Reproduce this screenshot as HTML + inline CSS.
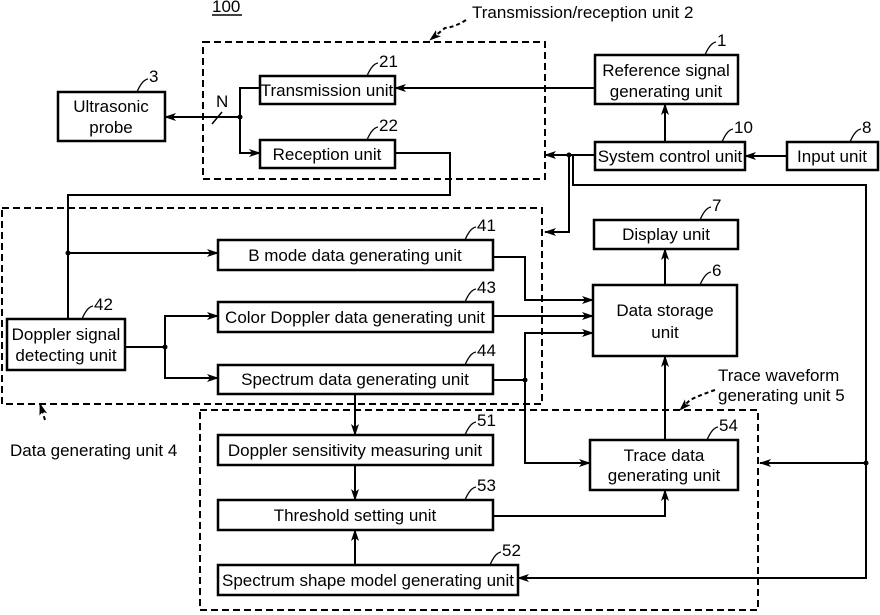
<!DOCTYPE html>
<html><head><style>body{margin:0;background:#fff}svg{display:block}text{font-family:"Liberation Sans",sans-serif;font-size:17px;fill:#000}</style></head><body>
<svg width="880" height="615" viewBox="0 0 880 615" xmlns="http://www.w3.org/2000/svg">
<defs><marker id="a" markerWidth="12" markerHeight="8" refX="11" refY="4" orient="auto" markerUnits="userSpaceOnUse"><path d="M0,0 L12,4 L0,8 L3,4z" fill="#000"/></marker></defs>
<g fill="none" stroke="#000" stroke-width="2" stroke-dasharray="7,4">
<rect x="203" y="42" width="342" height="137"/>
<rect x="2" y="208" width="540" height="196"/>
<rect x="200" y="410" width="558" height="200"/>
</g>
<g fill="#fff" stroke="#000" stroke-width="2.5">
<rect x="58" y="92" width="107" height="49"/>
<rect x="260" y="76" width="135" height="28"/>
<rect x="260" y="140" width="135" height="28"/>
<rect x="595" y="55" width="143" height="49"/>
<rect x="595" y="142" width="150" height="28"/>
<rect x="787" y="142" width="91" height="28"/>
<rect x="594" y="220" width="144" height="29"/>
<rect x="593" y="285" width="144" height="71"/>
<rect x="218" y="240" width="275" height="30"/>
<rect x="218" y="302" width="275" height="30"/>
<rect x="218" y="365" width="275" height="29"/>
<rect x="7" y="319" width="118" height="51"/>
<rect x="218" y="435" width="275" height="30"/>
<rect x="218" y="500" width="275" height="30"/>
<rect x="218" y="565" width="300" height="30"/>
<rect x="590" y="440" width="148" height="50"/>
</g>
<g fill="none" stroke="#000" stroke-width="2">
<path d="M595,88 H395" marker-end="url(#a)"/>
<path d="M665,142 V104" marker-end="url(#a)"/>
<path d="M787,156 H745" marker-end="url(#a)"/>
<path d="M595,155 H545" marker-end="url(#a)"/>
<path d="M569,155 V232 H545" marker-end="url(#a)"/>
<path d="M573,155 V185 H866 V578 H518" marker-end="url(#a)"/>
<path d="M866,463 H760" marker-end="url(#a)"/>
<path d="M240,117 H165" marker-end="url(#a)"/>
<path d="M260,88 H240 V153 H260" marker-end="url(#a)"/>
<path d="M212,124 L222,112" stroke-width="1.5"/>
<path d="M395,153 H450 V195 H68 V319"/>
<path d="M68,253 H218" marker-end="url(#a)"/>
<path d="M125,347 H165 V316 H218" marker-end="url(#a)"/>
<path d="M165,347 V378 H218" marker-end="url(#a)"/>
<path d="M493,257 H525 V300 H593" marker-end="url(#a)"/>
<path d="M493,316 H593" marker-end="url(#a)"/>
<path d="M493,380 H525 V333 H593" marker-end="url(#a)"/>
<path d="M525,380 V463 H590" marker-end="url(#a)"/>
<path d="M355,394 V435" marker-end="url(#a)"/>
<path d="M355,465 V500" marker-end="url(#a)"/>
<path d="M355,565 V530" marker-end="url(#a)"/>
<path d="M493,516 H665 V490" marker-end="url(#a)"/>
<path d="M665,440 V356" marker-end="url(#a)"/>
<path d="M665,285 V249" marker-end="url(#a)"/>
<path d="M466,20 Q455,27 445,28 L430,40" stroke-dasharray="4,3" marker-end="url(#a)"/>
<path d="M45,420 L40,404" stroke-dasharray="4,3" marker-end="url(#a)"/>
<path d="M715,390 Q700,395 690,400 L680,410" stroke-dasharray="4,3" marker-end="url(#a)"/>
<path d="M212,15 H242" stroke-width="1.5"/>
</g>
<g fill="#000"><circle cx="240" cy="117" r="2.5"/><circle cx="68" cy="253" r="2.5"/><circle cx="165" cy="347" r="2.5"/><circle cx="525" cy="380" r="2.5"/><circle cx="569" cy="155" r="2.5"/><circle cx="866" cy="463" r="2.5"/></g>
<g fill="none" stroke="#000" stroke-width="1.3">
<path d="M137,92 Q142,80 148,79"/><path d="M367,76 Q372,64 378,63"/><path d="M367,140 Q372,128 378,127"/>
<path d="M705,55 Q710,43 716,42"/><path d="M722,142 Q727,130 733,129"/><path d="M850,142 Q855,130 861,129"/>
<path d="M700,220 Q705,208 711,207"/><path d="M700,285 Q705,273 711,272"/><path d="M465,240 Q470,228 476,227"/>
<path d="M465,302 Q470,290 476,289"/><path d="M465,365 Q470,353 476,352"/><path d="M82,319 Q87,307 93,306"/>
<path d="M465,435 Q470,423 476,422"/><path d="M465,500 Q470,488 476,487"/><path d="M490,565 Q495,553 501,552"/><path d="M707,440 Q712,428 718,427"/>
</g>
<g text-anchor="middle">
<text x="111" y="112">Ultrasonic</text><text x="111" y="133">probe</text>
<text x="327" y="96">Transmission unit</text><text x="327" y="160">Reception unit</text>
<text x="666" y="76">Reference signal</text><text x="666" y="97">generating unit</text>
<text x="670" y="162">System control unit</text><text x="832" y="162">Input unit</text>
<text x="666" y="240">Display unit</text>
<text x="665" y="316">Data storage</text><text x="665" y="338">unit</text>
<text x="355" y="261">B mode data generating unit</text>
<text x="355" y="323">Color Doppler data generating unit</text>
<text x="355" y="385">Spectrum data generating unit</text>
<text x="66" y="340">Doppler signal</text><text x="66" y="361">detecting unit</text>
<text x="355" y="456">Doppler sensitivity measuring unit</text>
<text x="355" y="521">Threshold setting unit</text>
<text x="368" y="586">Spectrum shape model generating unit</text>
<text x="664" y="461">Trace data</text><text x="664" y="481">generating unit</text>
</g>
<text x="212" y="12">100</text>
<text x="472" y="18">Transmission/reception unit 2</text>
<text x="216" y="107">N</text>
<text x="10" y="456">Data generating unit 4</text>
<text x="718" y="381">Trace waveform</text><text x="718" y="401">generating unit 5</text>
<g font-size="16"><text x="149" y="82">3</text><text x="379" y="67">21</text><text x="379" y="131">22</text><text x="717" y="46">1</text><text x="734" y="133">10</text><text x="862" y="133">8</text><text x="712" y="211">7</text><text x="712" y="276">6</text><text x="477" y="231">41</text><text x="477" y="293">43</text><text x="477" y="356">44</text><text x="94" y="310">42</text><text x="477" y="426">51</text><text x="477" y="491">53</text><text x="502" y="556">52</text><text x="719" y="431">54</text></g>
</svg>
</body></html>
